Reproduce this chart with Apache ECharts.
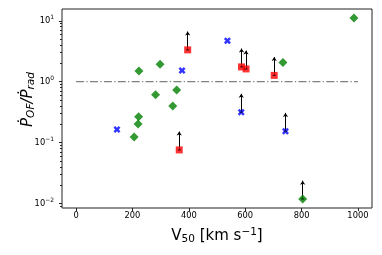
<!DOCTYPE html>
<html>
<head>
<meta charset="utf-8">
<script src="https://cdn.jsdelivr.net/npm/echarts@6/dist/echarts.min.js"></script>
<style>
html,body{margin:0;padding:0;background:#fff;}
#chart{width:382px;height:255px;}
</style>
</head>
<body>
<div id="chart"></div>
<script>
// ---- data ----
const greenX = [986, 734, 223, 298, 282, 357, 343, 222, 220, 206];
const greenY = [11.1, 2.06, 1.50, 1.93, 0.61, 0.73, 0.40, 0.265, 0.203, 0.124];
const greenLimX = [804];
const greenLimY = [0.0119];
const blueX = [145, 376, 537];
const blueY = [0.164, 1.53, 4.68];
const blueLimX = [586, 743];
const blueLimY = [0.316, 0.154];
const redLimX = [396, 587, 603, 703, 366];
const redLimY = [3.33, 1.75, 1.62, 1.27, 0.076];
const refLineX = [0, 1000];
const refLineY = 1;
const limitFactor = 2;
const xTicks = [0, 200, 400, 600, 800, 1000];
const yTicks = [0.01, 0.1, 1, 10];
const xMin = -50, xMax = 1050;
const yMin = 0.00847, yMax = 15.6;

const yMinor = [];
for (let e = -3; e <= 1; e++) {
  for (let k = 2; k <= 9; k++) {
    const v = k * Math.pow(10, e);
    if (v >= yMin && v <= yMax) yMinor.push(v);
  }
}

const zip = (xs, ys) => xs.map((x, i) => [x, ys[i]]);
const allLimX = redLimX.concat(blueLimX, greenLimX);
const allLimY = redLimY.concat(blueLimY, greenLimY);

const xPath = 'path://M-1,-2 L0,-1 L1,-2 L2,-1 L1,0 L2,1 L1,2 L0,1 L-1,2 L-2,1 L-1,0 L-2,-1 Z';
const FONT = 'DejaVu Sans';

const chart = echarts.init(document.getElementById('chart'), null, {renderer: 'canvas'});
chart.setOption({
  animation: false,
  backgroundColor: '#fff',
  grid: {left: 62, right: 10, top: 9, bottom: 47, show: true, borderColor: '#222', borderWidth: 1, backgroundColor: 'transparent'},
  xAxis: {
    type: 'value', min: xMin, max: xMax,
    axisLine: {show: false, onZero: false},
    splitLine: {show: false},
    axisTick: {show: true, length: 3, lineStyle: {color: '#222'}, customValues: xTicks},
    axisLabel: {customValues: xTicks, color: '#000', fontFamily: FONT, fontSize: 8.3, margin: 4,
      formatter: v => String(v)},
    name: '{m|V}{sub|50}{m| [km s}{sup|\u22121}{m|]}',
    nameLocation: 'middle', nameGap: 19, nameMoveOverlap: false,
    nameTextStyle: {
      fontFamily: FONT, color: '#000',
      rich: {
        m: {fontFamily: FONT, fontSize: 15, color: '#000', verticalAlign: 'middle'},
        sub: {fontFamily: FONT, fontSize: 10.5, color: '#000', padding: [6, 0, 0, 0], verticalAlign: 'middle'},
        sup: {fontFamily: FONT, fontSize: 10.5, color: '#000', padding: [0, 0, 8, 0], verticalAlign: 'middle'}
      }
    }
  },
  yAxis: [{
    type: 'log', logBase: 10, min: yMin, max: yMax,
    axisLine: {show: false, onZero: false},
    splitLine: {show: false},
    axisTick: {show: true, length: 3, lineStyle: {color: '#222'}, customValues: yTicks},
    axisLabel: {
      customValues: yTicks, margin: 8, fontFamily: FONT,
      formatter: function (v) {
        const e = Math.round(Math.log10(v));
        return '{b|10}{s|' + (e < 0 ? '\u2212' + (-e) : e) + '}';
      },
      rich: {
        b: {fontFamily: FONT, fontSize: 8.3, color: '#000', verticalAlign: 'middle'},
        s: {fontFamily: FONT, fontSize: 6, color: '#000', padding: [0, 0, 6, 0], verticalAlign: 'middle'}
      }
    },
    name: '{i|\u1E56}{sub|OF}{i|/\u1E56}{sub|rad}',
    nameLocation: 'middle', nameRotate: 90, nameGap: 25, nameMoveOverlap: false,
    nameTextStyle: {
      fontFamily: FONT, color: '#000', padding: [0, 0, 0, 18],
      rich: {
        i: {fontFamily: FONT, fontStyle: 'italic', fontSize: 15, color: '#000', verticalAlign: 'middle'},
        sub: {fontFamily: FONT, fontStyle: 'italic', fontSize: 10.5, color: '#000', padding: [6, 0, 0, 0], verticalAlign: 'middle'}
      }
    }
  }, {
    type: 'log', logBase: 10, min: yMin, max: yMax, position: 'left', offset: 0,
    axisLine: {show: false, onZero: false}, splitLine: {show: false},
    axisLabel: {show: false},
    axisTick: {show: true, length: 2, lineStyle: {color: '#222', width: 1}, customValues: yMinor}
  }],
  series: [
    {
      type: 'line', xAxisIndex: 0, yAxisIndex: 0, silent: true,
      data: refLineX.map(x => [x, refLineY]), symbol: 'none',
      lineStyle: {color: '#808080', width: 1.3, type: [8, 2.3, 1.3, 2.3]}, z: 1
    },
    {
      type: 'lines', coordinateSystem: 'cartesian2d', xAxisIndex: 0, yAxisIndex: 0,
      data: allLimX.map((x, i) => ({coords: [[x, allLimY[i]], [x, allLimY[i] * limitFactor]]})),
      symbol: ['none', 'arrow'], symbolSize: [4, 4],
      lineStyle: {color: '#000', width: 1, opacity: 1}, z: 2
    },
    {
      type: 'scatter', yAxisIndex: 0, symbol: 'diamond', symbolSize: 9,
      itemStyle: {color: '#008000'}, data: zip(greenX, greenY).concat(zip(greenLimX, greenLimY)), z: 3
    },
    {
      type: 'scatter', yAxisIndex: 0, symbol: xPath, symbolSize: 7,
      itemStyle: {color: '#0000ff'}, data: zip(blueX, blueY).concat(zip(blueLimX, blueLimY)), z: 3
    },
    {
      type: 'scatter', yAxisIndex: 0, symbol: 'rect', symbolSize: 7,
      itemStyle: {color: '#ff0000'}, data: zip(redLimX, redLimY), z: 3
    },
    {
      type: 'scatter', yAxisIndex: 0, symbol: 'rect', symbolSize: [3, 1],
      itemStyle: {color: '#000'}, data: zip(allLimX, allLimY), z: 4
    }
  ]
});
</script>
</body>
</html>
